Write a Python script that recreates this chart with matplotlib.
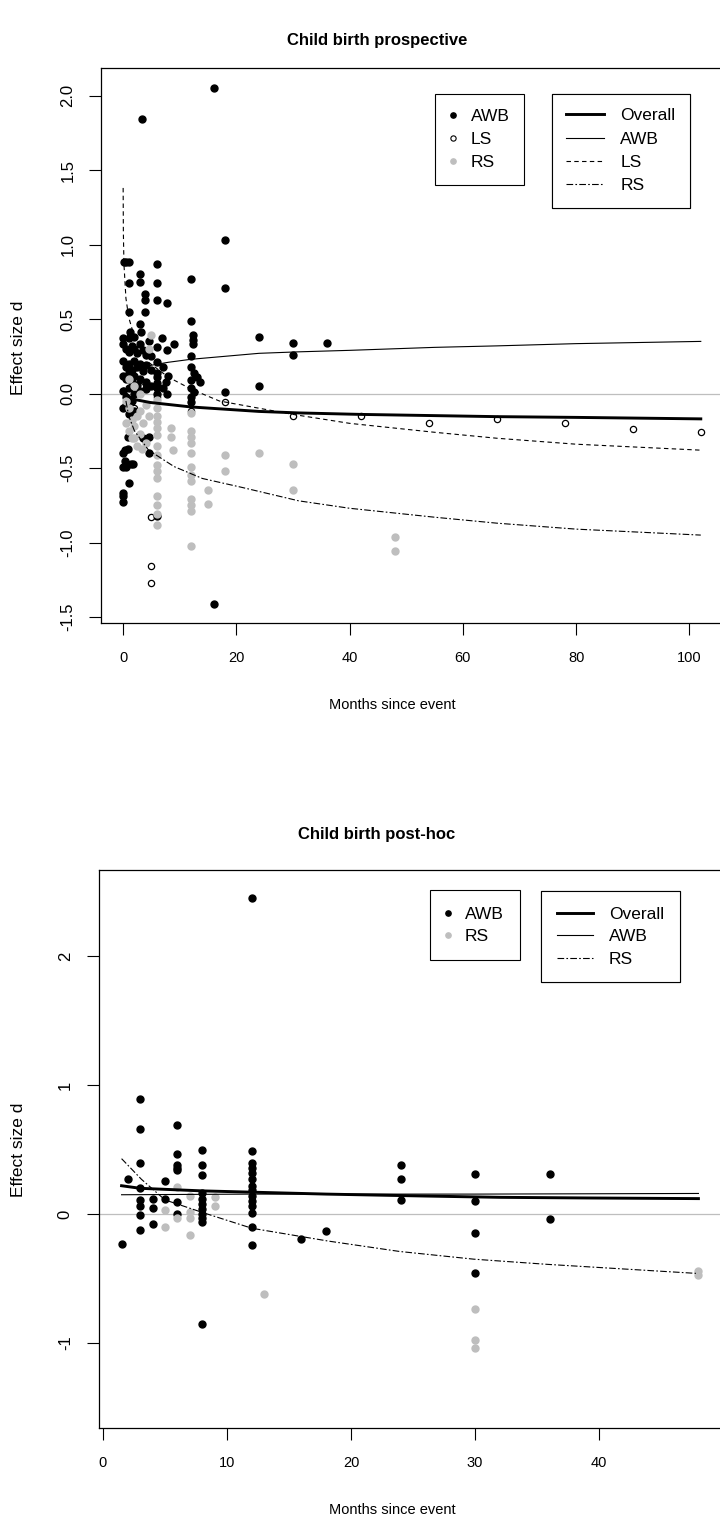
import matplotlib
matplotlib.use("Agg")
import matplotlib.pyplot as plt
from matplotlib.lines import Line2D

plt.rcParams['font.family'] = ['Liberation Sans', 'DejaVu Sans']

# ---- top panel: child birth prospective ----
pro_awb_m = [16, 3.3, 18, 18, 0.1, 0.5, 1.0, 5.9, 3.0, 3.0, 1.1, 5.9, 12, 3.9, 3.9, 5.9, 7.8,
             1.1, 3.9, 12, 3.0, 1.3, 3.2, 0.05, 6.8, 12.4, 12.4, 12.4, 5.9, 7.8, 9.0, 12, 5.9,
             24, 24, 30, 30, 36, 18, 5.9, 5.9, 5.9, 5.9, 5.9, 7.1, 7.8,
             12, 12.5, 13, 13.5, 12, 12, 12.5, 12, 12, 5.9, 16,
             0, 0, 0, 0, 0, 1.1, 1.8, 0.8, 3.6, 4.5, 4.5, 0.4, 0.9, 0.4, 1.4, 0.6,
             0, 0.5, 1, 1.5, 2, 2.5, 3, 3.5, 4, 0, 0.5, 1, 1.5, 2, 2.5, 3, 3.5, 4,
             0, 0.5, 1, 1.5, 2, 2.5, 3, 4, 0, 0.5, 1, 1.5, 2, 3, 4, 0, 0.5, 1, 2,
             5, 5, 5, 7, 8, 7.5, 4.5, 1.0, 2]
pro_awb_d = [2.05, 1.84, 1.03, 0.71, 0.88, 0.88, 0.88, 0.87, 0.80, 0.75, 0.74, 0.74, 0.77, 0.67, 0.63, 0.63, 0.61,
             0.55, 0.55, 0.49, 0.47, 0.41, 0.41, 0.37, 0.37, 0.39, 0.36, 0.33, 0.31, 0.29, 0.33, 0.25, 0.21,
             0.38, 0.05, 0.34, 0.26, 0.34, 0.01, 0.14, 0.11, 0.07, 0.04, 0.0, 0.04, 0.0,
             0.18, 0.14, 0.11, 0.08, 0.09, 0.04, 0.01, -0.02, -0.06, -0.82, -1.41,
             -0.40, -0.49, -0.67, -0.69, -0.73, -0.60, -0.47, -0.29, -0.30, -0.29, -0.40, -0.38, -0.37, -0.45, -0.47, -0.49,
             0.33, 0.30, 0.28, 0.32, 0.30, 0.27, 0.33, 0.29, 0.26, 0.22, 0.18, 0.20, 0.16, 0.22, 0.18, 0.20, 0.15, 0.19,
             0.12, 0.10, 0.14, 0.08, 0.12, 0.06, 0.10, 0.08, 0.02, -0.02, 0.04, -0.05, 0.0, 0.02, 0.03, -0.10, -0.08, -0.14, -0.12,
             0.25, 0.16, 0.05, 0.18, 0.12, 0.08, 0.35, 0.37, 0.38]

pro_ls_m = [5.0, 5.0, 5.0, 18, 30, 42, 54, 66, 78, 90, 102, 1, 3, 6, 12, 2]
pro_ls_d = [-0.83, -1.16, -1.27, -0.06, -0.15, -0.15, -0.20, -0.17, -0.20, -0.24, -0.26, 0.15, 0.05, -0.02, -0.12, -0.10]

pro_rs_m = [5.9] * 15 + [12] * 12 + [8.4, 8.4, 8.9, 15, 15, 18, 18, 24, 30, 30, 48, 48, 5, 4.5,
            0.5, 1, 1.5, 2, 2.5, 3, 3.5, 4, 1, 2, 3, 0.5, 1.5, 2.5, 4, 3.3, 4.5, 2, 3, 1]
pro_rs_d = [-0.04, -0.10, -0.15, -0.19, -0.23, -0.28, -0.35, -0.41, -0.48, -0.52, -0.57, -0.69, -0.75, -0.81, -0.88,
            -0.13, -0.25, -0.29, -0.33, -0.40, -0.49, -0.55, -0.59, -0.71, -0.75, -0.79, -1.02,
            -0.23, -0.29, -0.38, -0.65, -0.74, -0.41, -0.52, -0.40, -0.47, -0.65, -0.96, -1.06, 0.39, 0.30,
            -0.05, -0.10, -0.18, -0.22, -0.15, -0.27, -0.20, -0.33, -0.25, -0.30, -0.12, -0.20, -0.30, -0.35,
            -0.08, -0.37, -0.15, 0.05, 0.0, 0.10]

# fitted curves
pro_fit_all_m = [0.1, 0.5, 1, 2, 4.8, 12, 24, 31, 42, 66, 80, 102]
pro_fit_all_d = [0.03, 0.0, -0.02, -0.04, -0.06, -0.09, -0.12, -0.13, -0.14, -0.155, -0.16, -0.17]
pro_fit_awb_m = [1.5, 3, 5, 8, 12, 18, 24, 31, 40, 55, 66, 80, 102]
pro_fit_awb_d = [0.14, 0.17, 0.19, 0.21, 0.23, 0.25, 0.27, 0.28, 0.29, 0.31, 0.32, 0.335, 0.35]
pro_fit_ls_m = [0.01, 0.05, 0.15, 0.5, 1, 2, 4.5, 8, 12, 17, 30, 40, 55, 66, 80, 102]
pro_fit_ls_d = [1.38, 1.08, 0.87, 0.64, 0.51, 0.38, 0.21, 0.11, 0.03, -0.05, -0.14, -0.20, -0.26, -0.30, -0.34, -0.38]
pro_fit_rs_m = [0.5, 1, 2, 4.5, 9, 14, 21, 31, 40, 55, 66, 80, 102]
pro_fit_rs_d = [-0.05, -0.15, -0.25, -0.38, -0.49, -0.57, -0.63, -0.72, -0.77, -0.83, -0.87, -0.91, -0.95]

# ---- bottom panel: child birth post-hoc ----
post_awb_m = [3] * 8 + [6] * 7 + [8] * 11 + [12] * 14 + [1.5, 2, 4, 4, 4, 5, 5, 16, 18, 24, 24, 24, 30, 30, 30, 30, 36, 36]
post_awb_d = [0.89, 0.66, 0.40, 0.20, 0.11, 0.06, -0.01, -0.12,
              0.69, 0.47, 0.38, 0.36, 0.34, 0.09, 0.0,
              0.50, 0.38, 0.30, 0.16, 0.12, 0.08, 0.04, 0.0, -0.03, -0.06, -0.85,
              2.45, 0.49, 0.40, 0.36, 0.32, 0.27, 0.22, 0.19, 0.14, 0.10, 0.06, 0.01, -0.10, -0.24,
              -0.23, 0.27, 0.12, 0.05, -0.08, 0.26, 0.12, -0.19, -0.13, 0.38, 0.27, 0.11, 0.31, 0.10, -0.15, -0.46, 0.31, -0.04]
post_rs_m = [6, 6, 5, 5, 7, 7, 7, 7, 9, 9, 13, 30, 30, 30, 48, 48]
post_rs_d = [0.21, -0.03, 0.03, -0.10, 0.14, 0.02, -0.03, -0.16, 0.13, 0.06, -0.62, -0.74, -0.98, -1.04, -0.44, -0.47]

post_fit_all_m = [1.5, 3, 8, 18, 26, 32, 39, 48]
post_fit_all_d = [0.22, 0.20, 0.18, 0.155, 0.14, 0.13, 0.125, 0.12]
post_fit_awb_m = [1.5, 12, 30, 48]
post_fit_awb_d = [0.15, 0.155, 0.155, 0.16]
post_fit_rs_m = [1.5, 3.1, 5, 8.1, 12, 18.2, 23.9, 29.9, 35.8, 47.8]
post_fit_rs_d = [0.43, 0.27, 0.11, 0.01, -0.11, -0.21, -0.29, -0.35, -0.39, -0.46]

W, H = 720, 1522
GRAY = '#bebebe'
FS = 10.5        # horizontal axis text
FS_Y = 12        # rotated tick labels
FS_YLAB = 12.5   # rotated axis label
FS_LEG = 12.5
FS_TITLE = 12
DASH_LS = (0, (4, 3))
DASH_RS = (0, (6, 2, 1.5, 2))


def box(left, top, right, bottom):
    return [left / W, 1 - bottom / H, (right - left) / W, (bottom - top) / H]


def style_axes(ax):
    for s in ax.spines.values():
        s.set_linewidth(0.9)
    ax.tick_params(direction='out', length=8.5, width=0.8)
    ax.tick_params(axis='x', pad=12, labelsize=FS)
    ax.tick_params(axis='y', pad=10, labelsize=FS_Y)
    ax.axhline(0, color=GRAY, lw=0.9, zorder=1)


fig = plt.figure(figsize=(W / 100, H / 100), dpi=100)

# top
ax1 = fig.add_axes(box(101, 68, 724, 623))
style_axes(ax1)
ax1.plot(pro_awb_m, pro_awb_d, 'o', color='black', ms=5, ls='none', zorder=3)
ax1.plot(pro_ls_m, pro_ls_d, 'o', mfc='none', mec='black', mew=0.9, ms=4.5, ls='none', zorder=3)
ax1.plot(pro_rs_m, pro_rs_d, 'o', color=GRAY, ms=5, ls='none', zorder=3)
ax1.plot(pro_fit_all_m, pro_fit_all_d, color='black', lw=2.1, zorder=4)
ax1.plot(pro_fit_awb_m, pro_fit_awb_d, color='black', lw=0.8, zorder=4)
ax1.plot(pro_fit_ls_m, pro_fit_ls_d, color='black', lw=0.8, ls=DASH_LS, zorder=4)
ax1.plot(pro_fit_rs_m, pro_fit_rs_d, color='black', lw=0.8, ls=DASH_RS, zorder=4)
ax1.set_xlim(-3.9, 106.1)
ax1.set_ylim(-1.54, 2.185)
ax1.set_xticks([0, 20, 40, 60, 80, 100])
ax1.set_yticks([-1.5, -1.0, -0.5, 0.0, 0.5, 1.0, 1.5, 2.0])
ax1.set_yticklabels(['-1.5', '-1.0', '-0.5', '0.0', '0.5', '1.0', '1.5', '2.0'], rotation=90, va='center')

# bottom
ax2 = fig.add_axes(box(98.5, 870, 721.5, 1428))
style_axes(ax2)
ax2.plot(post_awb_m, post_awb_d, 'o', color='black', ms=5, ls='none', zorder=3)
ax2.plot(post_rs_m, post_rs_d, 'o', color=GRAY, ms=5, ls='none', zorder=3)
ax2.plot(post_fit_all_m, post_fit_all_d, color='black', lw=2.1, zorder=4)
ax2.plot(post_fit_awb_m, post_fit_awb_d, color='black', lw=0.8, zorder=4)
ax2.plot(post_fit_rs_m, post_fit_rs_d, color='black', lw=0.8, ls=DASH_RS, zorder=4)
ax2.set_xlim(-0.36, 49.86)
ax2.set_ylim(-1.66, 2.67)
ax2.set_xticks([0, 10, 20, 30, 40])
ax2.set_yticks([-1, 0, 1, 2])
ax2.set_yticklabels(['-1', '0', '1', '2'], rotation=90, va='center')

# titles and axis labels
fig.text(377 / W, 1 - 40 / H, 'Child birth prospective', ha='center', va='center', fontsize=FS_TITLE, weight='bold')
fig.text(392 / W, 1 - 705 / H, 'Months since event', ha='center', va='center', fontsize=FS)
fig.text(19 / W, 1 - 348 / H, 'Effect size d', ha='center', va='center', rotation=90, fontsize=FS_YLAB)
fig.text(377 / W, 1 - 834 / H, 'Child birth post-hoc', ha='center', va='center', fontsize=FS_TITLE, weight='bold')
fig.text(392 / W, 1 - 1510 / H, 'Months since event', ha='center', va='center', fontsize=FS)
fig.text(19 / W, 1 - 1150 / H, 'Effect size d', ha='center', va='center', rotation=90, fontsize=FS_YLAB)


def pt_handle(kind):
    if kind == 'AWB':
        return Line2D([], [], marker='o', ls='none', color='black', ms=3.8)
    if kind == 'LS':
        return Line2D([], [], marker='o', ls='none', mfc='none', mec='black', mew=0.8, ms=3.8)
    return Line2D([], [], marker='o', ls='none', color=GRAY, ms=3.8)


def ln_handle(kind):
    if kind == 'Overall':
        return Line2D([], [], color='black', lw=2.1)
    if kind == 'AWB':
        return Line2D([], [], color='black', lw=0.8)
    if kind == 'LS':
        return Line2D([], [], color='black', lw=0.8, ls=DASH_LS)
    return Line2D([], [], color='black', lw=0.8, ls=DASH_RS)


def add_legend(ax, labels, handles, x, y, hlen, tpad, bpad, lspace):
    leg = ax.legend(handles, labels, loc='upper left', bbox_to_anchor=(x / W, 1 - y / H),
                    bbox_transform=fig.transFigure, borderaxespad=0, fontsize=FS_LEG,
                    fancybox=False, framealpha=1, edgecolor='black', handlelength=hlen,
                    handletextpad=tpad, labelspacing=lspace, borderpad=bpad)
    leg.get_frame().set_linewidth(0.8)
    ax.add_artist(leg)
    return leg


pts1 = ['AWB', 'LS', 'RS']
add_legend(ax1, pts1, [pt_handle(k) for k in pts1], 435, 94, 0.35, 0.86, 0.84, 0.46)
lns1 = ['Overall', 'AWB', 'LS', 'RS']
add_legend(ax1, lns1, [ln_handle(k) for k in lns1], 552, 94, 2.2, 0.92, 0.82, 0.47)
pts2 = ['AWB', 'RS']
add_legend(ax2, pts2, [pt_handle(k) for k in pts2], 430, 890, 0.2, 0.86, 0.95, 0.4)
lns2 = ['Overall', 'AWB', 'RS']
add_legend(ax2, lns2, [ln_handle(k) for k in lns2], 541, 891, 2.1, 0.92, 0.9, 0.42)

fig.savefig('out.png', dpi=100)
